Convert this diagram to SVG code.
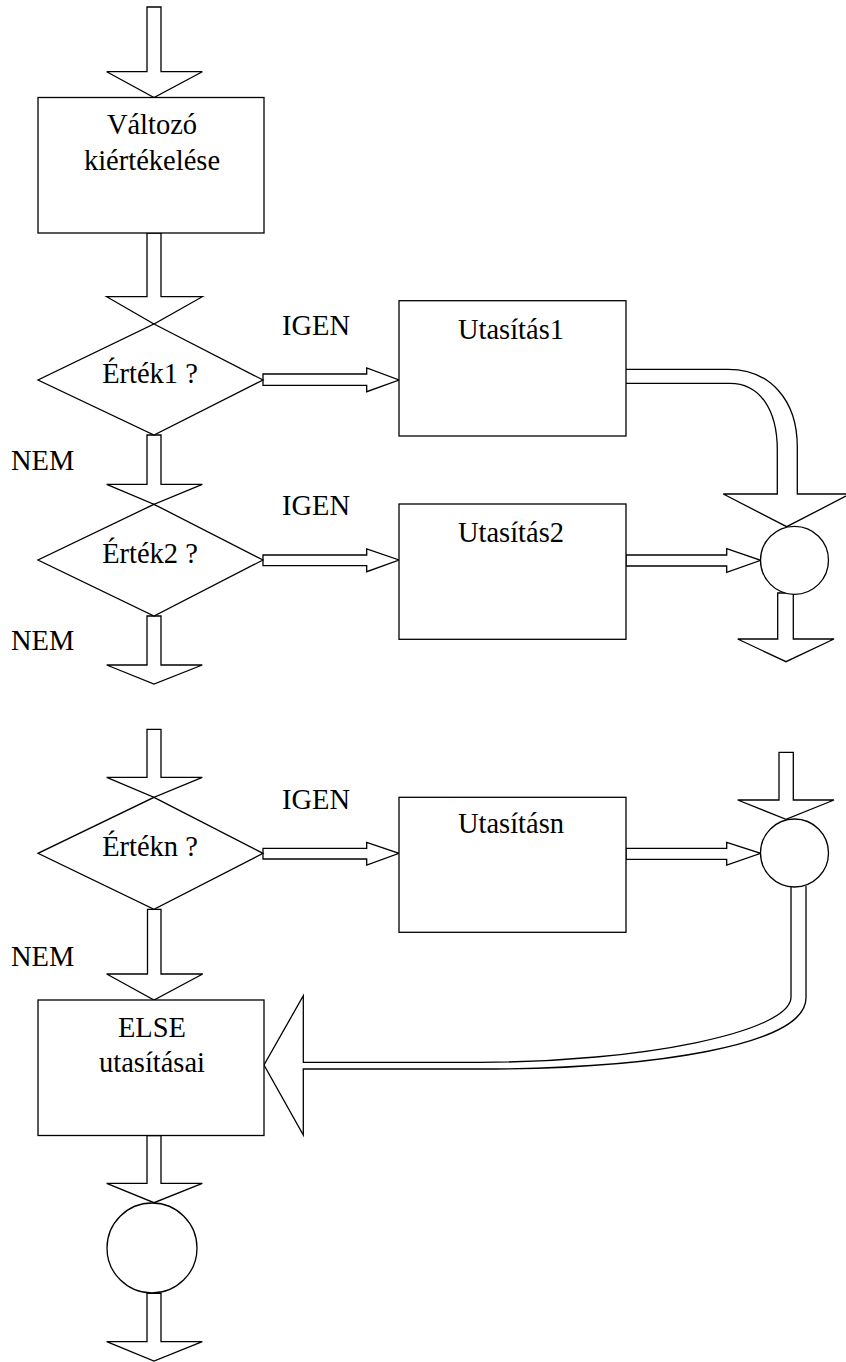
<svg xmlns="http://www.w3.org/2000/svg" width="846" height="1362" viewBox="0 0 846 1362">
  <style>
    .s { fill: #fff; stroke: #000; stroke-width: 1.3; stroke-linejoin: miter; }
    .t { font-family: "Liberation Serif", "Times New Roman", serif; font-size: 28.5px; fill: #000; }
    .c { text-anchor: middle; }
  </style>
  <rect x="0" y="0" width="846" height="1362" fill="#fff"/>

  <!-- block arrows and curved connectors -->
  <g id="connectors">
    <polygon class="s" points="147,7 161,7 161,71.7 202.3,71.7 154,97.5 106.7,71.7 147,71.7"/>
    <polygon class="s" points="147,233 161,233 161,296.7 202.3,296.7 154,324 106.7,296.7 147,296.7"/>
    <polygon class="s" points="147,435 161,435 161,484.3 202.3,484.3 154,504.3 106.7,484.3 147,484.3"/>
    <polygon class="s" points="147,616 161,616 161,665 202.3,665 154,684 106.7,665 147,665"/>
    <polygon class="s" points="147,729.3 161,729.3 161,777.3 202.3,777.3 154,797.3 106.7,777.3 147,777.3"/>
    <polygon class="s" points="147.5,909.3 161,909.3 161,974 202.7,974 154,1000 106.7,974 147.5,974"/>
    <polygon class="s" points="147,1135.5 161,1135.5 161,1183.3 202.3,1183.3 154,1202.7 106.7,1183.3 147,1183.3"/>
    <polygon class="s" points="147,1293.3 161,1293.3 161,1341.7 202.3,1341.7 154,1361 106.7,1341.7 147,1341.7"/>

    <!-- IGEN branches -->
    <polygon class="s" points="263,374 366.7,374 366.7,368 399,380 366.7,391.7 366.7,385.3 263,385.3"/>
    <polygon class="s" points="263,555 366.7,555 366.7,549 399,560 366.7,571.7 366.7,565.7 263,565.7"/>
    <polygon class="s" points="263,848.3 366.7,848.3 366.7,842.3 399,853.3 366.7,865 366.7,859 263,859"/>

    <!-- statements into the joins -->
    <polygon class="s" points="626,555 726.7,555 726.7,548.7 760.7,560.3 726.7,572.3 726.7,566 626,566"/>
    <polygon class="s" points="626,848.3 726.7,848.3 726.7,842.3 760.7,853.3 726.7,865 726.7,859.3 626,859.3"/>
    <path class="s" d="M626,369.3 H728 C770,369.3 797.3,400 797.3,447 V494 H850 L786.7,526.7 L723.3,494 H777.3 V450 C777.3,410 760,383.3 730,383.3 H626"/>

    <!-- join outputs -->
    <polygon class="s" points="777.7,593 793.3,593 793.3,639 834,639 786,661.7 737.7,639 777.7,639"/>
    <polygon class="s" points="779,752.3 793.3,752.3 793.3,800 834,800 786,819.3 737.7,800 779,800"/>
    <path class="s" d="M791,886.7 V997 C791,1032 640,1062.3 480,1062.3 H303.3 V995.7 L264,1065 L303.3,1135 V1069 H480 C650,1069 806,1046 806,998 V886"/>
  </g>

  <g id="valtozo">
    <rect class="s" x="38" y="97.5" width="226" height="135.5"/>
    <text class="t c" x="152" y="134">Változó</text>
    <text class="t c" x="152" y="170">kiértékelése</text>
  </g>

  <g id="ertek1">
    <polygon class="s" points="154,324 263,380 154,435 38,380"/>
    <text class="t c" x="150" y="383">Érték1 ?</text>
  </g>

  <g id="ertek2">
    <polygon class="s" points="154,504.3 263,560 154,616 38,560"/>
    <text class="t c" x="150" y="563.3">Érték2 ?</text>
  </g>

  <g id="ertekn">
    <polygon class="s" points="154,797.3 263,853.3 154,909.3 38,853.3"/>
    <text class="t c" x="150" y="856">Értékn ?</text>
  </g>

  <g id="utasitas1">
    <rect class="s" x="399" y="300.7" width="227" height="135.3"/>
    <text class="t c" x="511" y="339">Utasítás1</text>
  </g>

  <g id="utasitas2">
    <rect class="s" x="399" y="504" width="227" height="135.3"/>
    <text class="t c" x="511" y="541.7">Utasítás2</text>
  </g>

  <g id="utasitasn">
    <rect class="s" x="399" y="797.3" width="227" height="135"/>
    <text class="t c" x="511" y="833.3">Utasításn</text>
  </g>

  <g id="join1">
    <circle class="s" cx="794.5" cy="560.3" r="34"/>
  </g>

  <g id="join2">
    <circle class="s" cx="794.5" cy="853" r="34"/>
  </g>

  <g id="else">
    <rect class="s" x="38" y="1000" width="226" height="135.5"/>
    <text class="t c" x="152" y="1036.7">ELSE</text>
    <text class="t c" x="152" y="1071.7">utasításai</text>
  </g>

  <g id="end">
    <circle class="s" cx="152" cy="1248" r="45"/>
  </g>

  <g id="labels">
    <text class="t" x="282" y="335">IGEN</text>
    <text class="t" x="282" y="515">IGEN</text>
    <text class="t" x="282" y="809.3">IGEN</text>
    <text class="t" x="11" y="470">NEM</text>
    <text class="t" x="11" y="650">NEM</text>
    <text class="t" x="11" y="966">NEM</text>
  </g>
</svg>
